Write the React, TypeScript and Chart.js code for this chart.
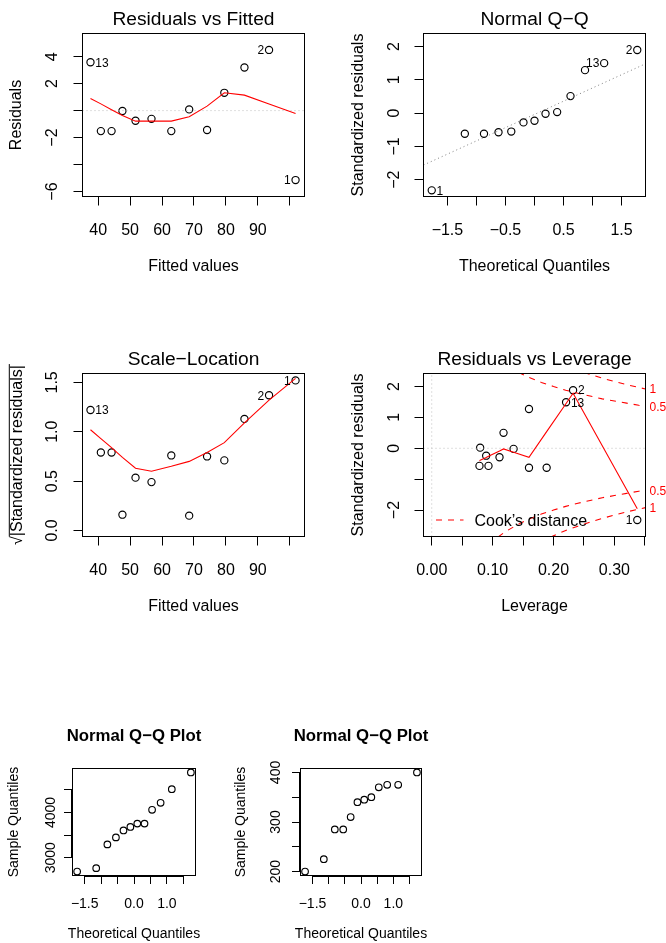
import React, { useEffect, useRef } from "react";
import { Chart, registerables } from "chart.js";

Chart.register(...registerables);

const FONT = '"Liberation Sans", Arial, Helvetica, sans-serif';

// ---------------- Residuals vs Fitted ----------------
const fittedValues = [37.6, 40.85, 44.2, 47.6, 51.7, 56.7, 62.9, 68.5, 74.1, 79.5, 85.8, 93.5, 101.8];
const residualValues = [3.59, -1.52, -1.52, -0.03, -0.75, -0.61, -1.52, 0.09, -1.44, 1.32, 3.2, 4.5, -5.15];
const residSmooth = [0.9, 0.5, 0.07, -0.36, -0.78, -0.78, -0.78, -0.46, 0.33, 1.32, 1.15, 0.49, -0.21];
const fittedRange = [35.1, 104.6];
const residRange = [-6.37, 5.72];
const fittedTicks = [40, 50, 60, 70, 80, 90, 100];
const fittedTickLabels = ["40", "50", "60", "70", "80", "90", ""];
const residTicks = [-6, -4, -2, 0, 2, 4];
const residTickLabels = ["\u22126", "", "\u22122", "", "2", "4"];
const residIdIndex = [0, 11, 12];
const residIdText = ["13", "2", "1"];
const residIdSide = ["right", "left", "left"];

// ---------------- Normal Q-Q (residuals) ----------------
const theoQuant13 = [-1.77, -1.2, -0.87, -0.62, -0.4, -0.19, 0, 0.19, 0.39, 0.62, 0.87, 1.2, 1.77];
const stdResidSorted = [-2.32, -0.62, -0.62, -0.575, -0.555, -0.28, -0.23, -0.02, 0.03, 0.51, 1.29, 1.5, 1.895];
const qqRefX = [-1.912, 1.912];
const qqRefY = [-1.56, 1.48];
const qqXRange = [-1.912, 1.912];
const qqYRange = [-2.505, 2.39];
const qqXTicks = [-1.5, -1, -0.5, 0, 0.5, 1, 1.5];
const qqXTickLabels = ["\u22121.5", "", "\u22120.5", "", "0.5", "", "1.5"];
const qqYTicks = [-2, -1, 0, 1, 2];
const qqYTickLabels = ["\u22122", "\u22121", "0", "1", "2"];
const qqIdIndex = [0, 11, 12];
const qqIdText = ["1", "13", "2"];
const qqIdSide = ["right", "left", "left"];

// ---------------- Scale-Location ----------------
const sqrtAbsStdResid = [1.22, 0.79, 0.79, 0.16, 0.535, 0.49, 0.76, 0.15, 0.75, 0.71, 1.13, 1.37, 1.52];
const scaleSmooth = [1.02, 0.93, 0.84, 0.74, 0.63, 0.6, 0.65, 0.7, 0.79, 0.89, 1.09, 1.32, 1.54];
const scaleYRange = [-0.061, 1.59];
const scaleYTicks = [0, 0.5, 1, 1.5];
const scaleYTickLabels = ["0.0", "0.5", "1.0", "1.5"];
const scaleIdIndex = [0, 11, 12];
const scaleIdText = ["13", "2", "1"];
const scaleIdSide = ["right", "left", "left"];

// ---------------- Residuals vs Leverage ----------------
const leverageValues = [0.0784, 0.0795, 0.0894, 0.0932, 0.1113, 0.1179, 0.1344, 0.1597, 0.1597, 0.1887, 0.2206, 0.2321, 0.3375];
const levStdResid = [-0.57, 0.02, -0.24, -0.57, -0.29, 0.5, -0.02, 1.27, -0.63, -0.63, 1.49, 1.88, -2.32];
const levSmoothX = [0.0784, 0.0795, 0.0894, 0.0932, 0.1113, 0.1179, 0.1344, 0.1597, 0.1887, 0.2206, 0.2321, 0.3375];
const levSmoothY = [-0.4, -0.39, -0.3, -0.26, -0.09, -0.02, -0.13, -0.29, 0.54, 1.45, 1.78, -1.96];
const cook05H = [0.08, 0.1, 0.12, 0.14, 0.16, 0.18, 0.2, 0.22, 0.24, 0.26, 0.28, 0.3, 0.32, 0.34, 0.351];
const cook05Upper = [3.39, 3.0, 2.71, 2.48, 2.29, 2.13, 2.0, 1.88, 1.78, 1.69, 1.6, 1.53, 1.46, 1.39, 1.36];
const cook05Lower = [-3.39, -3.0, -2.71, -2.48, -2.29, -2.13, -2.0, -1.88, -1.78, -1.69, -1.6, -1.53, -1.46, -1.39, -1.36];
const cook1H = [0.16, 0.18, 0.2, 0.22, 0.24, 0.26, 0.28, 0.3, 0.32, 0.34, 0.351];
const cook1Upper = [3.24, 3.02, 2.83, 2.66, 2.52, 2.39, 2.27, 2.16, 2.06, 1.97, 1.92];
const cook1Lower = [-3.24, -3.02, -2.83, -2.66, -2.52, -2.39, -2.27, -2.16, -2.06, -1.97, -1.92];
const cookLabelValues = [1.92, 1.36, -1.36, -1.92];
const cookLabelTexts = ["1", "0.5", "0.5", "1"];
const levXRange = [-0.0135, 0.351];
const levYRange = [-2.855, 2.42];
const levXTicks = [0, 0.05, 0.1, 0.15, 0.2, 0.25, 0.3, 0.35];
const levXTickLabels = ["0.00", "", "0.10", "", "0.20", "", "0.30", ""];
const levYTicks = [-2, -1, 0, 1, 2];
const levYTickLabels = ["\u22122", "", "0", "1", "2"];
const levIdIndex = [10, 11, 12];
const levIdText = ["13", "2", "1"];
const levIdSide = ["right", "right", "left"];

// ---------------- Normal Q-Q Plots (samples) ----------------
const theoQuant12 = [-1.73, -1.15, -0.81, -0.55, -0.32, -0.11, 0.1, 0.32, 0.55, 0.81, 1.15, 1.73];
const sampleA = [2695, 2770, 3295, 3450, 3604, 3681, 3755, 3755, 4060, 4215, 4515, 4886];
const sampleB = [200, 225, 285, 285, 310, 340, 345, 350, 370, 375, 375, 400];
const q12XRange = [-1.871, 1.871];
const sampleARange = [2607, 4974];
const sampleBRange = [192, 408];
const q12XTicks = [-1.5, -1, -0.5, 0, 0.5, 1, 1.5];
const q12XTickLabels = ["\u22121.5", "", "", "0.0", "", "1.0", ""];
const sampleATicks = [3000, 3500, 4000, 4500];
const sampleATickLabels = ["3000", "", "4000", ""];
const sampleBTicks = [200, 250, 300, 350, 400];
const sampleBTickLabels = ["200", "", "300", "", "400"];

// ---------------- helpers ----------------
const RED = "#FF0000";
const pts = (xs: number[], ys: number[]) => xs.map((x, i) => ({ x, y: ys[i] }));
const pointsDs = (xs: number[], ys: number[], r: number) => ({
  data: pts(xs, ys),
  showLine: false,
  pointRadius: r,
  pointHoverRadius: r,
  pointBorderColor: "#000",
  pointBackgroundColor: "rgba(0,0,0,0)",
  pointBorderWidth: 1.15,
});
const lineDs = (xs: number[], ys: number[], color: string, dash: number[], width = 1.1) => ({
  data: pts(xs, ys),
  showLine: true,
  borderColor: color,
  borderWidth: width,
  borderDash: dash,
  pointRadius: 0,
  pointHoverRadius: 0,
  fill: false,
  tension: 0,
});

type Ids = { xs: number[]; ys: number[]; idx: number[]; text: string[]; side: string[] };
type PanelCfg = {
  canvas: number[];
  box: number[];
  xRange: number[];
  yRange: number[];
  xTicks: number[];
  xTickLabels: string[];
  yTicks: number[];
  yTickLabels: string[];
  title: string;
  titleBold: boolean;
  titleSize: number;
  titleBaseline: number;
  fontSize: number;
  xTitle: string;
  xTitleBaseline: number;
  yTitle: string;
  yTitleBaseline: number;
  sqrtTitle?: boolean;
  xTickBaseline: number;
  yTickBaseline: number;
  tickLen: number;
  axisLines?: boolean;
  datasets: any[];
  ids?: Ids;
  extra?: (chart: any, ctx: CanvasRenderingContext2D) => void;
};

const font = (size: number, bold = false) => `${bold ? "bold " : ""}${size}px ${FONT}`;

function decorate(chart: any, p: PanelCfg) {
  const ctx: CanvasRenderingContext2D = chart.ctx;
  const xs = chart.scales.x;
  const ys = chart.scales.y;
  const ca = chart.chartArea;
  const ox = p.canvas[0];
  const oy = p.canvas[1];
  ctx.save();
  ctx.setLineDash([]);
  ctx.strokeStyle = "#000";
  ctx.lineWidth = 1;
  ctx.strokeRect(ca.left, ca.top, ca.right - ca.left, ca.bottom - ca.top);
  if (p.axisLines) {
    const x0 = xs.getPixelForValue(p.xTicks[0]);
    const x1 = xs.getPixelForValue(p.xTicks[p.xTicks.length - 1]);
    const y0 = ys.getPixelForValue(p.yTicks[0]);
    const y1 = ys.getPixelForValue(p.yTicks[p.yTicks.length - 1]);
    ctx.beginPath();
    ctx.moveTo(x0, ca.bottom + 1);
    ctx.lineTo(x1, ca.bottom + 1);
    ctx.moveTo(ca.left - 1, y0);
    ctx.lineTo(ca.left - 1, y1);
    ctx.stroke();
  }
  ctx.fillStyle = "#000";
  ctx.textBaseline = "alphabetic";
  ctx.textAlign = "center";
  ctx.font = font(p.fontSize);
  p.xTicks.forEach((v, i) => {
    const t = p.xTickLabels[i];
    if (t) ctx.fillText(t, xs.getPixelForValue(v), p.xTickBaseline - oy);
  });
  p.yTicks.forEach((v, i) => {
    const t = p.yTickLabels[i];
    if (!t) return;
    ctx.save();
    ctx.translate(p.yTickBaseline - ox, ys.getPixelForValue(v));
    ctx.rotate(-Math.PI / 2);
    ctx.fillText(t, 0, 0);
    ctx.restore();
  });
  const cx = (ca.left + ca.right) / 2;
  const cy = (ca.top + ca.bottom) / 2;
  ctx.font = font(p.titleSize, p.titleBold);
  ctx.fillText(p.title, cx, p.titleBaseline - oy);
  ctx.font = font(p.fontSize);
  ctx.fillText(p.xTitle, cx, p.xTitleBaseline - oy);
  ctx.save();
  ctx.translate(p.yTitleBaseline - ox, cy);
  ctx.rotate(-Math.PI / 2);
  if (p.sqrtTitle) {
    const body = "|" + p.yTitle + "|";
    const rad = "\u221A";
    const wr = ctx.measureText(rad).width;
    const wb = ctx.measureText(body).width;
    const w = wr + wb;
    ctx.textAlign = "left";
    ctx.fillText(rad, -w / 2, 0);
    ctx.fillText(body, -w / 2 + wr, 0);
    ctx.beginPath();
    ctx.moveTo(-w / 2 + wr - 0.5, -12.3);
    ctx.lineTo(w / 2 + 1, -12.3);
    ctx.strokeStyle = "#000";
    ctx.lineWidth = 1;
    ctx.stroke();
  } else {
    ctx.fillText(p.yTitle, 0, 0);
  }
  ctx.restore();
  if (p.ids) {
    const ids = p.ids;
    ctx.font = font(12);
    ids.idx.forEach((k, j) => {
      const px = xs.getPixelForValue(ids.xs[k]);
      const py = ys.getPixelForValue(ids.ys[k]);
      const right = ids.side[j] === "right";
      ctx.textAlign = right ? "left" : "right";
      ctx.fillText(ids.text[j], px + (right ? 4.8 : -4.8), py + 4.3);
    });
  }
  if (p.extra) p.extra(chart, ctx);
  ctx.restore();
}

function createPanel(canvas: HTMLCanvasElement, p: PanelCfg) {
  const [cl, ct, cw, ch] = p.canvas;
  const [bl, bt, br, bb] = p.box;
  const grid = {
    display: true,
    drawOnChartArea: false,
    drawTicks: true,
    tickLength: p.tickLen,
    color: "#000",
    lineWidth: 1,
  };
  return new Chart(canvas, {
    type: "scatter",
    data: { datasets: p.datasets },
    options: {
      responsive: false,
      animation: false,
      devicePixelRatio: 1,
      events: [],
      layout: { padding: { left: bl - cl, top: bt - ct, right: cl + cw - br, bottom: ct + ch - bb } },
      plugins: { legend: { display: false }, tooltip: { enabled: false }, title: { display: false } },
      scales: {
        x: {
          type: "linear",
          position: "bottom",
          min: p.xRange[0],
          max: p.xRange[1],
          afterBuildTicks: (s: any) => {
            s.ticks = p.xTicks.map((v) => ({ value: v }));
          },
          afterFit: (s: any) => {
            s.height = 0;
          },
          ticks: { display: false },
          grid,
          border: { display: false },
        },
        y: {
          type: "linear",
          position: "left",
          min: p.yRange[0],
          max: p.yRange[1],
          afterBuildTicks: (s: any) => {
            s.ticks = p.yTicks.map((v) => ({ value: v }));
          },
          afterFit: (s: any) => {
            s.width = 0;
          },
          ticks: { display: false },
          grid,
          border: { display: false },
        },
      },
    } as any,
    plugins: [{ id: "rdecor", afterDraw: (chart: any) => decorate(chart, p) }],
  });
}

const levExtra = (chart: any, ctx: CanvasRenderingContext2D) => {
  const ys = chart.scales.y;
  const ca = chart.chartArea;
  ctx.save();
  ctx.font = font(12);
  ctx.fillStyle = RED;
  ctx.textAlign = "left";
  cookLabelValues.forEach((v, i) => {
    ctx.fillText(cookLabelTexts[i], ca.right + 4, ys.getPixelForValue(v) + 4.3);
  });
  const ly = ca.bottom - 16.5;
  ctx.strokeStyle = RED;
  ctx.lineWidth = 1.1;
  ctx.setLineDash([6, 6]);
  ctx.beginPath();
  ctx.moveTo(ca.left + 12.5, ly);
  ctx.lineTo(ca.left + 40, ly);
  ctx.stroke();
  ctx.setLineDash([]);
  ctx.fillStyle = "#000";
  ctx.font = font(16);
  ctx.fillText("Cook\u2019s distance", ca.left + 51, ly + 5.7);
  ctx.restore();
};

const PANELS: PanelCfg[] = [
  {
    canvas: [0, 0, 333, 290],
    box: [82.5, 33.5, 304.5, 196.5],
    xRange: fittedRange,
    yRange: residRange,
    xTicks: fittedTicks,
    xTickLabels: fittedTickLabels,
    yTicks: residTicks,
    yTickLabels: residTickLabels,
    title: "Residuals vs Fitted",
    titleBold: false,
    titleSize: 19.2,
    titleBaseline: 25,
    fontSize: 16,
    xTitle: "Fitted values",
    xTitleBaseline: 270.5,
    yTitle: "Residuals",
    yTitleBaseline: 21,
    xTickBaseline: 235,
    yTickBaseline: 57,
    tickLen: 9,
    datasets: [
      lineDs(fittedValues, residSmooth, RED, []),
      lineDs(fittedRange, [0, 0], "#BEBEBE", [1, 3], 1),
      pointsDs(fittedValues, residualValues, 3.6),
    ],
    ids: { xs: fittedValues, ys: residualValues, idx: residIdIndex, text: residIdText, side: residIdSide },
  },
  {
    canvas: [333, 0, 333, 290],
    box: [423.5, 33.5, 645.5, 196.5],
    xRange: qqXRange,
    yRange: qqYRange,
    xTicks: qqXTicks,
    xTickLabels: qqXTickLabels,
    yTicks: qqYTicks,
    yTickLabels: qqYTickLabels,
    title: "Normal Q\u2212Q",
    titleBold: false,
    titleSize: 19.2,
    titleBaseline: 25,
    fontSize: 16,
    xTitle: "Theoretical Quantiles",
    xTitleBaseline: 270.5,
    yTitle: "Standardized residuals",
    yTitleBaseline: 363,
    xTickBaseline: 235,
    yTickBaseline: 399,
    tickLen: 9,
    datasets: [
      lineDs(qqRefX, qqRefY, "#7F7F7F", [1, 3], 1),
      pointsDs(theoQuant13, stdResidSorted, 3.6),
    ],
    ids: { xs: theoQuant13, ys: stdResidSorted, idx: qqIdIndex, text: qqIdText, side: qqIdSide },
  },
  {
    canvas: [0, 335, 333, 300],
    box: [82.5, 373.5, 304.5, 536.5],
    xRange: fittedRange,
    yRange: scaleYRange,
    xTicks: fittedTicks,
    xTickLabels: fittedTickLabels,
    yTicks: scaleYTicks,
    yTickLabels: scaleYTickLabels,
    title: "Scale\u2212Location",
    titleBold: false,
    titleSize: 19.2,
    titleBaseline: 365,
    fontSize: 16,
    xTitle: "Fitted values",
    xTitleBaseline: 610.5,
    yTitle: "Standardized residuals",
    yTitleBaseline: 21.6,
    sqrtTitle: true,
    xTickBaseline: 575,
    yTickBaseline: 57,
    tickLen: 9,
    datasets: [
      lineDs(fittedValues, scaleSmooth, RED, []),
      pointsDs(fittedValues, sqrtAbsStdResid, 3.6),
    ],
    ids: { xs: fittedValues, ys: sqrtAbsStdResid, idx: scaleIdIndex, text: scaleIdText, side: scaleIdSide },
  },
  {
    canvas: [333, 335, 333, 300],
    box: [423.5, 373.5, 645.5, 536.5],
    xRange: levXRange,
    yRange: levYRange,
    xTicks: levXTicks,
    xTickLabels: levXTickLabels,
    yTicks: levYTicks,
    yTickLabels: levYTickLabels,
    title: "Residuals vs Leverage",
    titleBold: false,
    titleSize: 19.2,
    titleBaseline: 365,
    fontSize: 16,
    xTitle: "Leverage",
    xTitleBaseline: 610.5,
    yTitle: "Standardized residuals",
    yTitleBaseline: 363,
    xTickBaseline: 575,
    yTickBaseline: 399,
    tickLen: 9,
    datasets: [
      lineDs(levSmoothX, levSmoothY, RED, []),
      lineDs(cook05H, cook05Upper, RED, [6, 6]),
      lineDs(cook05H, cook05Lower, RED, [6, 6]),
      lineDs(cook1H, cook1Upper, RED, [6, 6]),
      lineDs(cook1H, cook1Lower, RED, [6, 6]),
      lineDs(levXRange, [0, 0], "#BEBEBE", [1, 3], 1),
      lineDs([0, 0], levYRange, "#BEBEBE", [1, 3], 1),
      pointsDs(leverageValues, levStdResid, 3.6),
    ],
    ids: { xs: leverageValues, ys: levStdResid, idx: levIdIndex, text: levIdText, side: levIdSide },
    extra: levExtra,
  },
  {
    canvas: [0, 715, 222, 228],
    box: [72.5, 768.5, 195.5, 875.5],
    xRange: q12XRange,
    yRange: sampleARange,
    xTicks: q12XTicks,
    xTickLabels: q12XTickLabels,
    yTicks: sampleATicks,
    yTickLabels: sampleATickLabels,
    title: "Normal Q\u2212Q Plot",
    titleBold: true,
    titleSize: 16.8,
    titleBaseline: 741,
    fontSize: 14,
    xTitle: "Theoretical Quantiles",
    xTitleBaseline: 938.3,
    yTitle: "Sample Quantiles",
    yTitleBaseline: 18.3,
    xTickBaseline: 907.5,
    yTickBaseline: 54.5,
    tickLen: 8.5,
    axisLines: true,
    datasets: [pointsDs(theoQuant12, sampleA, 3.3)],
  },
  {
    canvas: [222, 715, 222, 228],
    box: [300.5, 768.5, 421.5, 875.5],
    xRange: q12XRange,
    yRange: sampleBRange,
    xTicks: q12XTicks,
    xTickLabels: q12XTickLabels,
    yTicks: sampleBTicks,
    yTickLabels: sampleBTickLabels,
    title: "Normal Q\u2212Q Plot",
    titleBold: true,
    titleSize: 16.8,
    titleBaseline: 741,
    fontSize: 14,
    xTitle: "Theoretical Quantiles",
    xTitleBaseline: 938.3,
    yTitle: "Sample Quantiles",
    yTitleBaseline: 245,
    xTickBaseline: 907.5,
    yTickBaseline: 280,
    tickLen: 8.5,
    axisLines: true,
    datasets: [pointsDs(theoQuant12, sampleB, 3.3)],
  },
];

export default function App() {
  const refs = useRef<(HTMLCanvasElement | null)[]>([]);
  useEffect(() => {
    const charts = PANELS.map((p, i) => createPanel(refs.current[i] as HTMLCanvasElement, p));
    return () => charts.forEach((c) => c.destroy());
  }, []);
  return (
    <div style={{ position: "absolute", left: 0, top: 0, width: 666, height: 943, background: "#fff", overflow: "hidden" }}>
      {PANELS.map((p, i) => (
        <canvas
          key={i}
          ref={(el) => {
            refs.current[i] = el;
          }}
          width={p.canvas[2]}
          height={p.canvas[3]}
          style={{ position: "absolute", left: p.canvas[0], top: p.canvas[1], width: p.canvas[2], height: p.canvas[3] }}
        />
      ))}
    </div>
  );
}
